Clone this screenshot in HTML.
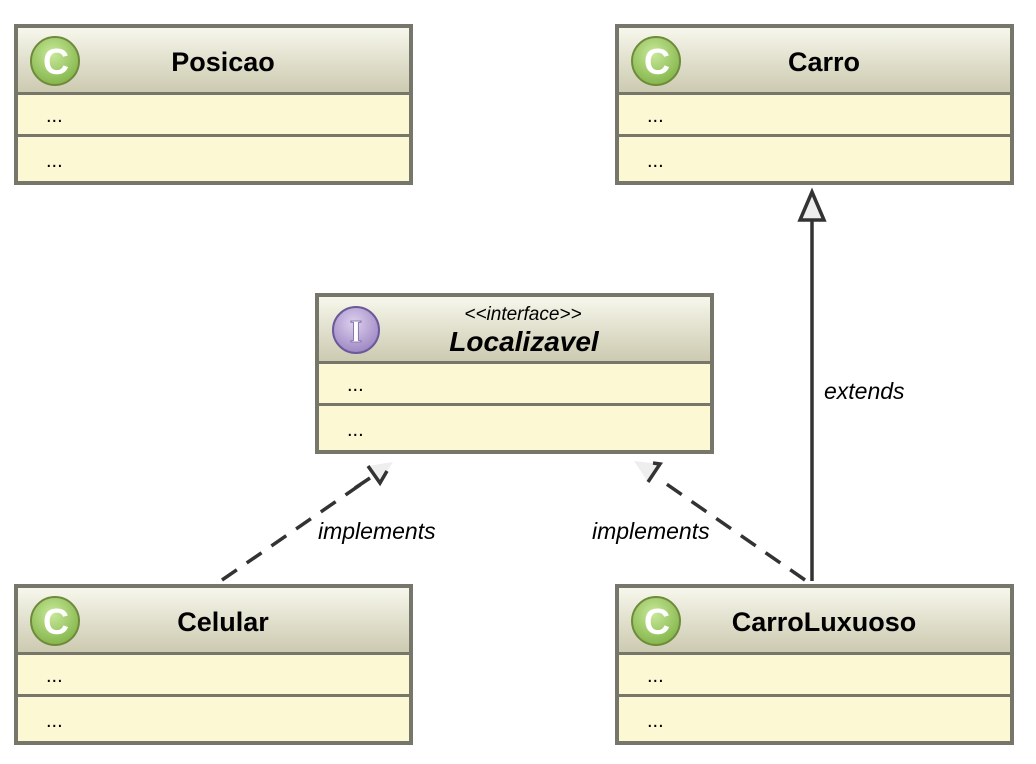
<!DOCTYPE html>
<html><head><style>html,body{margin:0;padding:0;background:#fff;}svg{display:block;font-family:"Liberation Sans",sans-serif;}</style></head>
<body>
<svg width="1036" height="764" viewBox="0 0 1036 764" xmlns="http://www.w3.org/2000/svg">
<defs>
<linearGradient id="hg" x1="0" y1="0" x2="0" y2="1"><stop offset="0" stop-color="#f7f7ec"/><stop offset="1" stop-color="#cccab0"/></linearGradient>
<radialGradient id="cg" cx="0.45" cy="0.35" r="0.7"><stop offset="0" stop-color="#c8e89a"/><stop offset="1" stop-color="#7fb245"/></radialGradient>
<radialGradient id="ig" cx="0.45" cy="0.35" r="0.7"><stop offset="0" stop-color="#ddd0ee"/><stop offset="1" stop-color="#9a82c0"/></radialGradient>
<g id="box">
<rect x="2" y="2" width="395" height="157" fill="#fcf8d4"/>
<rect x="4" y="4" width="391" height="64" fill="url(#hg)"/>
<line x1="2" y1="69.5" x2="397" y2="69.5" stroke="#77766a" stroke-width="3"/>
<line x1="2" y1="111.5" x2="397" y2="111.5" stroke="#77766a" stroke-width="3"/>
<rect x="2" y="2" width="395" height="157" fill="none" stroke="#77766a" stroke-width="4"/>
<text x="32" y="98" font-size="20">...</text>
<text x="32" y="143" font-size="20">...</text>
</g>
<g id="cicon">
<circle cx="41" cy="37" r="24" fill="url(#cg)" stroke="#6f8a3c" stroke-width="2"/>
<text x="42" y="50" font-size="36" font-weight="bold" fill="#fff" text-anchor="middle">C</text>
</g>
</defs>

<g transform="translate(14,24)"><use href="#box"/><use href="#cicon"/><text x="209" y="47" font-size="27" font-weight="bold" text-anchor="middle">Posicao</text></g>
<g transform="translate(615,24)"><use href="#box"/><use href="#cicon"/><text x="209" y="47" font-size="27" font-weight="bold" text-anchor="middle">Carro</text></g>
<g transform="translate(14,584)"><use href="#box"/><use href="#cicon"/><text x="209" y="47" font-size="27" font-weight="bold" text-anchor="middle">Celular</text></g>
<g transform="translate(615,584)"><use href="#box"/><use href="#cicon"/><text x="209" y="47" font-size="27" font-weight="bold" text-anchor="middle">CarroLuxuoso</text></g>
<g transform="translate(315,293)"><use href="#box"/>
<circle cx="41" cy="37" r="23" fill="url(#ig)" stroke="#6a5a9a" stroke-width="2"/>
<text x="41" y="49" font-size="32" font-weight="bold" fill="#fff" stroke="#8a78b0" stroke-width="1" text-anchor="middle" font-family="Liberation Serif,serif">I</text>
<text x="208" y="27" font-size="19" font-style="italic" text-anchor="middle">&lt;&lt;interface&gt;&gt;</text>
<text x="209" y="58" font-size="28" font-weight="bold" font-style="italic" text-anchor="middle">Localizavel</text>
</g>

<line x1="812" y1="581" x2="812" y2="220" stroke="#333" stroke-width="3.5"/>
<polygon points="812,192 800,220 824,220" fill="#eee" stroke="#333" stroke-width="3.5"/>
<text x="824" y="399" font-size="23" font-style="italic">extends</text>

<line x1="222" y1="580" x2="370" y2="478" stroke="#333" stroke-width="3.5" stroke-dasharray="18,12"/>
<polygon points="393,462 368,466 380,483" fill="#eee"/>
<polyline points="368,466 380,483 387,471" fill="none" stroke="#333" stroke-width="3.5"/>
<line x1="370" y1="478" x2="355" y2="488" stroke="#333" stroke-width="3.5"/>
<text x="318" y="539" font-size="23" font-style="italic">implements</text>

<line x1="805" y1="580" x2="665" y2="483" stroke="#333" stroke-width="3.5" stroke-dasharray="18,12"/>
<polygon points="634,461 660,464 648,482" fill="#eee"/>
<polyline points="648,482 660,464 653,463" fill="none" stroke="#333" stroke-width="3.5"/>
<text x="592" y="539" font-size="23" font-style="italic">implements</text>
</svg>
</body></html>
